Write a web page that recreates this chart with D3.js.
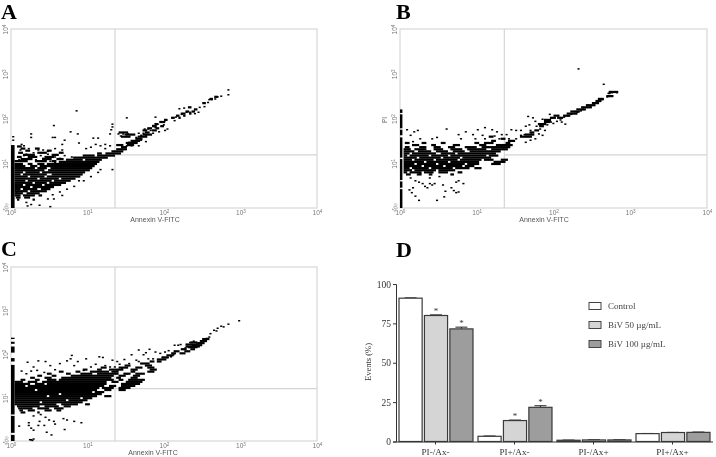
<!DOCTYPE html>
<html>
<head>
<meta charset="utf-8">
<script src="https://cdnjs.cloudflare.com/ajax/libs/d3/7.8.5/d3.min.js"></script>
<style>
html, body { margin: 0; padding: 0; background: #fff; }
svg { display: block; filter: blur(0.3px); }
</style>
</head>
<body>
<div id="graph"></div>
<script>
// cytometer channels: 256 channels over 4 log decades
var decadeChannels = [0, 64, 128, 192, 256];
var decadeExponents = ["0", "1", "2", "3", "4"];

// events as runs: [PI channel, first annexin channel, last annexin channel]
var runsA = [
 [159,170,173],[156,166,169],[150,160,163],[144,148,151],[141,153,156],[138,146,149],[138,151,154],[135,142,146],[135,149,151],[132,138,141],[132,144,146],
 [129,134,137],[129,140,142],[126,128,131],[123,124,129],[120,120,123],[117,118,122],[117,125,128],[114,114,118],[114,121,124],[111,110,114],[111,118,122],
 [108,90,98],[108,112,116],[105,96,104],[105,110,118],[102,92,100],[102,106,114],
 [99,104,110],[96,100,108],[93,96,106],[90,88,94],[90,97,103],
 [88,5,9],[87,92,97],[85,8,12],[85,20,24],[84,88,97],[82,12,16],[82,30,34],[81,84,94],[79,6,10],[79,22,30],[79,40,44],[78,72,76],[78,79,92],
 [76,10,20],[76,34,40],[75,60,70],[75,72,87],[73,5,9],[73,14,22],[73,28,36],[72,52,81],[70,8,18],[70,26,34],[70,38,44],[69,46,60],[69,62,76],
 [67,3,14],[67,20,30],[67,34,38],[66,40,74],[63,3,10],[63,14,18],[63,22,28],[63,30,72],[60,3,12],[60,16,22],[60,24,70],[57,3,20],[57,22,30],[57,33,68],
 [54,3,28],[54,31,66],[51,3,10],[51,12,24],[51,26,62],[48,3,8],[48,10,30],[48,34,60],[45,3,14],[45,16,28],[45,30,58],
 [42,3,22],[42,24,40],[42,42,54],[39,3,12],[39,14,34],[39,36,50],[36,3,18],[36,20,30],[36,32,46],[33,3,10],[33,12,26],[33,28,42],
 [30,3,16],[30,18,36],[27,3,8],[27,10,22],[27,25,33],[24,3,14],[24,16,30],[21,3,10],[21,13,24],[18,3,8],[18,10,20],[18,23,26],
 [15,4,8],[15,11,16],[12,5,7],[12,18,20]
];
var barA = [[0, 90]];
var pointsA = [
 [181,170],[181,163],[175,161],[172,160],[170,157],[167,156],[165,156],[164,152],[161,146],[157,145],[156,138],[153,136],
 [149,138],[146,138],[144,144],[140,143],[137,131],[136,126],[142,135],[134,130],[130,114],[128,126],[127,120],[122,121],[125,118],
 [118,119],[120,116],[114,114],[111,114],[116,112],[108,105],[110,108],[104,102],[106,108],[101,93],[103,97],[97,107],[93,107],
 [95,106],[89,107],[91,104],[84,121],[96,130],[120,131],[54,140],[35,119],[16,107],[16,102],[1,103],[1,98],[49,110],[34,102],
 [36,102],[55,107],[68,101],[72,101],[82,107],[83,113],[84,117],[98,95],[96,90],[100,90],[104,96],[108,98],[112,104],[118,108],
 [123,110],[128,112],[112,96],[106,90],[78,92],[74,90],[70,92],[66,88],[62,86],[78,86],[82,90],[44,98],[42,92],[56,94],
 [8,92],[10,90],[14,86],[22,84],[26,84],[30,82],[36,86],[42,84],[12,78],[18,80],[24,76],[30,78],[36,74],[44,76],[50,74],
 [14,72],[20,70],[26,72],[6,70],[10,76],[7,84],[32,68],[36,66],[40,72],[4,24],[12,9],[16,6],[13,4],[23,5],[32,3],[42,19],
 [30,14],[34,20],[84,56],[72,52],[74,56],[66,46],[60,40],[56,40],[52,32],[46,28],[40,24],[35,14]
];

var runsB = [
 [166,174,182],[160,172,178],[156,165,170],[153,163,168],[150,160,166],[147,155,163],[144,151,160],[141,147,155],[138,142,150],[135,139,148],[132,136,142],
 [132,128,133],[129,131,136],[129,125,130],[126,120,126],[123,120,125],[120,115,122],[117,116,120],[111,112,116],[108,108,112],[105,104,112],[102,100,110],
 [102,74,78],[99,84,88],[96,76,80],[96,90,96],
 [93,4,8],[93,18,22],[93,34,38],[93,62,66],[93,70,78],[93,88,92],
 [90,10,16],[90,26,30],[90,44,50],[90,66,72],[90,80,94],
 [87,4,8],[87,16,22],[87,28,34],[87,40,46],[87,54,64],[87,68,92],
 [84,3,9],[84,12,22],[84,28,36],[84,42,52],[84,56,72],[84,76,90],
 [81,3,12],[81,15,26],[81,30,40],[81,44,54],[81,58,84],
 [78,3,8],[78,10,30],[78,34,46],[78,48,80],
 [75,3,6],[75,8,24],[75,26,40],[75,42,72],[75,74,82],
 [72,3,14],[72,16,34],[72,36,50],[72,52,76],
 [69,3,10],[69,12,28],[69,30,48],[69,50,68],[69,70,78],[69,84,90],
 [66,3,20],[66,22,40],[66,42,66],[66,78,88],
 [63,3,12],[63,14,30],[63,32,54],[63,56,66],[63,76,84],
 [60,3,18],[60,20,36],[60,38,52],[60,54,62],
 [57,3,8],[57,10,24],[57,26,44],[57,46,58],[57,62,68],
 [54,3,10],[54,12,30],[54,32,46],
 [51,3,6],[51,8,18],[51,20,28],[51,32,40],[51,48,52],
 [48,5,9],[48,14,18],[48,24,27],[48,42,45]
];
var barB = [[0, 27], [29, 38], [40, 70], [72, 101], [104, 112], [114, 134], [136, 141]];
var pointsB = [
 [148,200],[169,178],[173,165],[176,166],[174,165],[180,166],[172,160],[175,161],[166,155],[168,156],[164,151],[161,148],[158,146],
 [155,145],[152,142],[150,140],[147,138],[145,139],[142,135],[139,133],[136,131],[133,127],[130,125],[127,122],[125,124],
 [137,121],[134,124],[124,135],[126,130],[124,125],[118,128],[122,120],[116,120],[116,114],[113,118],[110,130],[112,125],[106,132],
 [107,120],[115,107],[108,112],[104,118],[100,112],[96,112],[100,105],[103,106],[92,113],[88,106],[84,106],[80,110],[76,113],
 [70,116],[64,113],[60,106],[54,110],[50,100],[48,106],[38,114],[14,112],[11,110],[5,113],[16,100],[8,105],[10,96],[26,100],
 [30,102],[62,100],[68,105],[70,100],[78,104],[82,100],[90,100],[96,100],[104,95],[108,98],[112,100],[118,105],[120,112],
 [8,44],[12,40],[15,38],[20,32],[22,30],[18,36],[24,36],[26,34],[10,30],[7,27],[12,18],[9,23],[15,12],[30,12],[36,17],[44,26],
 [42,30],[46,23],[48,24],[37,25],[28,36],[35,34],[46,38],[48,40],[52,36],[24,44],[16,50],[32,46]
];

var runsC = [
 [150,160,166],[147,158,164],[145,150,156],[144,156,162],[142,146,156],[141,152,160],[139,146,158],[138,148,156],[135,142,147],[135,150,154],[132,136,141],[132,145,150],[129,134,138],[129,141,146],
 [126,130,136],[123,126,132],[120,122,130],[117,116,120],[117,122,126],[114,108,116],
 [111,95,100],[111,112,118],
 [108,75,80],[108,90,98],[108,104,110],[108,114,120],
 [105,60,64],[105,72,76],[105,82,94],[105,100,106],[105,116,122],
 [102,40,44],[102,54,58],[102,66,82],[102,84,90],[102,100,104],[102,114,120],
 [99,30,34],[99,46,50],[99,58,68],[99,72,90],[99,94,100],[99,104,112],
 [96,22,26],[96,34,38],[96,50,86],[96,90,96],[96,102,108],
 [93,16,20],[93,28,34],[93,42,84],[93,88,92],[93,100,106],
 [90,8,12],[90,20,24],[90,30,38],[90,40,86],[90,90,94],[90,98,112],
 [87,3,10],[87,14,22],[87,26,80],[87,84,90],[87,96,110],
 [84,3,16],[84,20,28],[84,30,80],[84,92,108],
 [81,3,12],[81,14,78],[81,82,88],[81,92,104],
 [78,3,74],[78,76,86],[78,90,100],
 [75,3,20],[75,22,72],[75,78,84],[75,90,96],
 [72,3,68],[72,70,78],
 [69,3,40],[69,42,76],
 [66,3,30],[66,32,72],[66,78,84],
 [63,3,58],[63,60,68],
 [60,3,46],[60,48,64],
 [57,3,24],[57,26,60],
 [54,3,38],[54,42,56],[54,62,66],
 [51,5,24],[51,28,40],[51,44,50],
 [48,6,18],[48,22,32],[48,36,44],
 [45,7,10],[45,14,20],[45,28,34],[45,38,42],
 [42,8,12],[42,22,24]
];
var barC = [[0, 9], [12, 37], [39, 112], [117, 122], [130, 139], [143, 146], [150, 152]];
var pointsC = [
 [190,178],[181,173],[177,169],[175,170],[172,167],[169,164],[166,159],[171,163],[165,154],[163,152],[160,151],[158,147],[155,145],
 [152,148],[149,146],[151,141],[147,140],[145,138],[141,143],[143,136],[139,142],[136,142],[131,134],[128,132],[135,128],[133,125],
 [130,124],[124,130],[126,124],[120,132],[115,136],[118,122],[114,122],[112,131],[106,135],[110,128],[106,118],[100,128],
 [104,120],[98,115],[94,121],[90,114],[88,118],[86,110],[84,120],[76,124],[73,125],[62,122],[55,118],[49,122],[50,127],
 [46,119],[40,115],[32,112],[28,118],[21,105],[22,119],[13,117],[18,110],[12,100],[8,104],[16,104],[27,102],[36,106],
 [52,112],[60,105],[66,110],[70,114],[78,112],[82,110],[92,108],[88,106],[96,100],[102,104],
 [58,28],[52,30],[46,32],[43,34],[35,30],[31,32],[27,24],[22,24],[16,20],[6,23],[14,24],[18,17],[14,28],[29,14],[44,18],[33,10],
 [23,30],[28,36],[36,26],[18,4],[16,3],[17,2],[15,3],[24,40],[18,38]
];

var gatesX = [87, 87, 87];
var gatesY = [76, 76, 77];
var scatterYTitles = ["", "PI", ""];
var scatterXTitle = "Annexin V-FITC";

// panel D
var categories = ["PI-/Ax-", "PI+/Ax-", "PI-/Ax+", "PI+/Ax+"];
var treatments = ["Control", "BiV 50 µg/mL", "BiV 100 µg/mL"];
var control = [91, 3.3, 0.8, 5];
var biv50 = [80, 13.3, 1, 5.7];
var biv100 = [71.5, 21.7, 1, 5.8];
var controlErr = [0.2, 0.2, 0.1, 0.1];
var biv50Err = [0.4, 0.3, 0.1, 0.1];
var biv100Err = [1.1, 1, 0.1, 0.2];
var biv50Star = [true, true, false, false];
var biv100Star = [true, true, false, false];
var eventTicks = [0, 25, 50, 75, 100];
var barColors = ["#ffffff", "#d5d5d5", "#9d9d9d"];

var svg = d3.select("#graph").append("svg")
    .attr("width", 716)
    .attr("height", 457);

function scatter(cfg) {
    var x = d3.scaleLinear().domain([0, 256]).range([cfg.left, cfg.right]);
    var y = d3.scaleLinear().domain([0, 256]).range([cfg.bottom, cfg.top]);
    var g = svg.append("g");

    // plot frame and quadrant gates
    g.append("rect")
        .attr("x", cfg.left).attr("y", cfg.top)
        .attr("width", cfg.right - cfg.left).attr("height", cfg.bottom - cfg.top)
        .attr("fill", "none").attr("stroke", "#d8d8d8").attr("stroke-width", 1.2);
    g.append("line")
        .attr("x1", x(cfg.gateX)).attr("x2", x(cfg.gateX))
        .attr("y1", cfg.top).attr("y2", cfg.bottom)
        .attr("stroke", "#d4d4d4").attr("stroke-width", 1.2);
    g.append("line")
        .attr("x1", x(cfg.gateX)).attr("x2", cfg.right)
        .attr("y1", y(cfg.gateY)).attr("y2", y(cfg.gateY))
        .attr("stroke", "#d4d4d4").attr("stroke-width", 1.2);

    // on-axis events pile up in the first channels
    g.selectAll(".pile").data(cfg.bar).enter().append("rect")
        .attr("x", x(0)).attr("width", x(cfg.pile) - x(0))
        .attr("y", function(d) { return y(d[1]); })
        .attr("height", function(d) { return y(d[0]) - y(d[1]); })
        .attr("fill", "#000");

    g.selectAll(".run").data(cfg.runs).enter().append("rect")
        .attr("x", function(d) { return x(d[1]); })
        .attr("width", function(d) { return x(d[2]) - x(d[1]); })
        .attr("y", function(d) { return y(d[0] + 1.6); })
        .attr("height", y(0) - y(3.2))
        .attr("fill", "#000");

    g.selectAll(".event").data(cfg.points).enter().append("rect")
        .attr("x", function(d) { return x(d[0]); })
        .attr("y", function(d) { return y(d[1]); })
        .attr("width", 2.1).attr("height", 1.5)
        .attr("fill", "#000");

    // decade axes, labels as 10 with superscript
    var xAxis = d3.axisBottom(x).tickValues(decadeChannels).tickSize(0).tickFormat("");
    var yAxis = d3.axisLeft(y).tickValues(decadeChannels.slice(1)).tickSize(0).tickFormat("");
    var ax = g.append("g").attr("transform", "translate(0," + cfg.bottom + ")").call(xAxis);
    var ay = g.append("g").attr("transform", "translate(" + cfg.left + ",0)").call(yAxis);
    ax.select(".domain").remove();
    ay.select(".domain").remove();

    function power(sel) {
        sel.attr("font-family", "Liberation Sans").attr("font-size", 6.5).attr("fill", "#777").attr("text-anchor", "middle");
        sel.text("10");
        sel.append("tspan").attr("dy", -2).attr("font-size", 4.6)
            .text(function(d) { return decadeExponents[decadeChannels.indexOf(d)]; });
    }
    ax.selectAll(".tick text").attr("y", 7).attr("dy", 0).call(power);
    ay.selectAll(".tick text")
        .attr("x", 0).attr("y", 0).attr("dy", 0)
        .attr("transform", "translate(-3,0) rotate(-90)")
        .call(power);
    // the origin label on the y axis sits slanted at the corner
    var corner = g.append("text")
        .attr("transform", "translate(" + (cfg.left - 3) + "," + (cfg.bottom + 1) + ") rotate(-55)")
        .attr("text-anchor", "middle")
        .attr("font-family", "Liberation Sans").attr("font-size", 5.8).attr("fill", "#777")
        .text("10");
    corner.append("tspan").attr("dy", -2).attr("font-size", 4.2).text(decadeExponents[0]);

    g.append("text")
        .attr("x", cfg.titleX).attr("y", cfg.titleY)
        .attr("text-anchor", "middle")
        .attr("font-family", "Liberation Sans").attr("font-size", 7).attr("fill", "#555")
        .text(scatterXTitle);
    if (cfg.yTitle) {
        g.append("text")
            .attr("transform", "translate(" + (cfg.left - 13) + ",120) rotate(-90)")
            .attr("text-anchor", "middle")
            .attr("font-family", "Liberation Sans").attr("font-size", 6.5).attr("fill", "#666")
            .text(cfg.yTitle);
    }
}

scatter({ left: 11, right: 317, top: 29, bottom: 208, runs: runsA, bar: barA, points: pointsA, pile: 3,
    gateX: gatesX[0], gateY: gatesY[0], titleX: 155, titleY: 222, yTitle: scatterYTitles[0] });
scatter({ left: 400, right: 707, top: 29, bottom: 208, runs: runsB, bar: barB, points: pointsB, pile: 2,
    gateX: gatesX[1], gateY: gatesY[1], titleX: 544, titleY: 222, yTitle: scatterYTitles[1] });
scatter({ left: 11, right: 317, top: 267, bottom: 441, runs: runsC, bar: barC, points: pointsC, pile: 3,
    gateX: gatesX[2], gateY: gatesY[2], titleX: 153, titleY: 455, yTitle: scatterYTitles[2] });

// bars
var x0 = d3.scaleBand().domain(categories).range([396, 712]);
var x1 = d3.scaleBand().domain(treatments).range([3, 77]).paddingInner(0.09);
var yBar = d3.scaleLinear().domain([0, 100]).range([441.5, 284]);
var seriesValues = [control, biv50, biv100];
var seriesErrors = [controlErr, biv50Err, biv100Err];
var seriesStars = [null, biv50Star, biv100Star];

var bars = svg.append("g");
treatments.forEach(function(t, s) {
    categories.forEach(function(c, i) {
        var v = seriesValues[s][i], e = seriesErrors[s][i];
        var bx = x0(c) + x1(t), mid = bx + x1.bandwidth() / 2;
        bars.append("line")
            .attr("x1", mid).attr("x2", mid)
            .attr("y1", yBar(v + e)).attr("y2", yBar(v))
            .attr("stroke", "#222");
        bars.append("line")
            .attr("x1", mid - 6).attr("x2", mid + 6)
            .attr("y1", yBar(v + e)).attr("y2", yBar(v + e))
            .attr("stroke", "#222");
        bars.append("rect")
            .attr("x", bx).attr("width", x1.bandwidth())
            .attr("y", yBar(v)).attr("height", yBar(0) - yBar(v))
            .attr("fill", barColors[s]).attr("stroke", "#3a3a3a").attr("stroke-width", 1.2);
        if (seriesStars[s] && seriesStars[s][i]) {
            bars.append("text")
                .attr("x", mid).attr("y", yBar(v + e) - 1)
                .attr("text-anchor", "middle")
                .attr("font-family", "Liberation Serif").attr("font-size", 9).attr("fill", "#333")
                .text("*");
        }
    });
});

var serif = "Liberation Serif";
var axisBottom = svg.append("g").attr("transform", "translate(0,441.5)")
    .call(d3.axisBottom(x0).tickSize(3).tickPadding(4));
axisBottom.select(".domain").attr("d", "M396,0.5H713").attr("stroke", "#333");
axisBottom.selectAll("line").attr("stroke", "#333");
axisBottom.selectAll("text").attr("font-family", serif).attr("font-size", 9.2).attr("fill", "#333");

var axisLeft = svg.append("g").attr("transform", "translate(396,0)")
    .call(d3.axisLeft(yBar).tickValues(eventTicks).tickSize(3).tickPadding(2));
axisLeft.select(".domain").attr("stroke", "#333");
axisLeft.selectAll("line").attr("stroke", "#333");
axisLeft.selectAll("text").attr("font-family", serif).attr("font-size", 9.5).attr("fill", "#333");

svg.append("text")
    .attr("transform", "translate(371,362) rotate(-90)")
    .attr("text-anchor", "middle")
    .attr("font-family", serif).attr("font-size", 8.5).attr("fill", "#333")
    .text("Events (%)");

// legend
var legend = svg.selectAll(".legend").data(treatments).enter().append("g")
    .attr("transform", function(d, i) { return "translate(589," + (302.5 + i * 19) + ")"; });
legend.append("rect")
    .attr("width", 12).attr("height", 7)
    .attr("fill", function(d, i) { return barColors[i]; })
    .attr("stroke", "#444");
legend.append("text")
    .attr("x", 19).attr("y", 6.5)
    .attr("font-family", serif).attr("font-size", 9).attr("fill", "#444")
    .text(function(d) { return d; });

// panel letters
var panelLetters = ["A", "B", "C", "D"];
var letterX = [1, 396, 1, 396];
var letterY = [19, 19, 256, 257];
svg.selectAll(".letter").data(panelLetters).enter().append("text")
    .attr("x", function(d, i) { return letterX[i]; })
    .attr("y", function(d, i) { return letterY[i]; })
    .attr("font-family", serif).attr("font-weight", "bold").attr("font-size", 22).attr("fill", "#000")
    .text(function(d) { return d; });
</script>
</body>
</html>
